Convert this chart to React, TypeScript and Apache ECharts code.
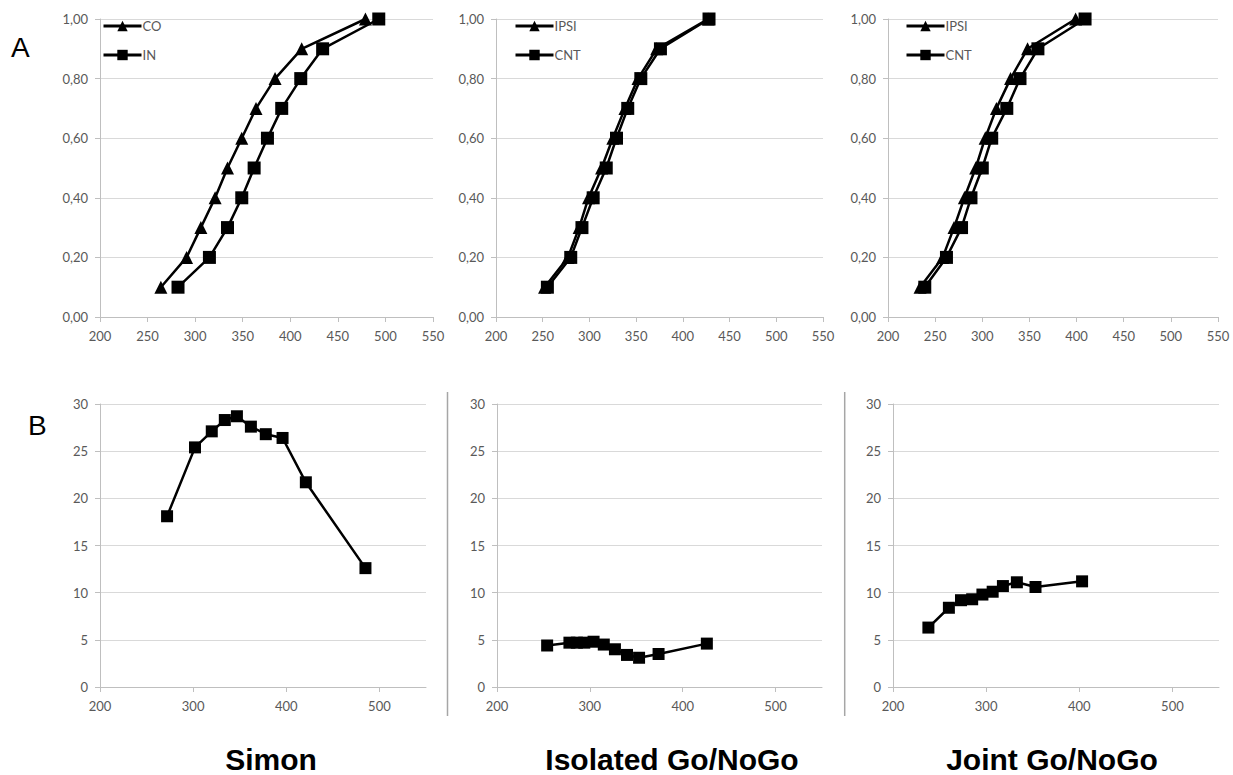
import React, { useEffect, useRef } from "react";
import * as echarts from "echarts";

// Panel A: cumulative distributions (x = RT, y = quantile)
const quantiles = [0.1, 0.2, 0.3, 0.4, 0.5, 0.6, 0.7, 0.8, 0.9, 1.0];
const simonCO = [264, 291, 306, 321, 334, 349, 364, 384, 412, 479];
const simonIN = [282, 315, 334, 349, 362, 376, 391, 411, 434, 493];
const isoIPSI = [252, 277, 289, 299, 313, 325, 338, 352, 372, 427];
const isoCNT = [255, 280, 292, 304, 318, 329, 341, 355, 376, 428];
const jointIPSI = [234, 258, 270, 281, 293, 303, 315, 330, 348, 399];
const jointCNT = [239, 262, 278, 288, 300, 310, 326, 340, 359, 409];

// Panel B: effect size vs mean RT
const simonEffX = [272, 302, 320, 334, 347, 362, 378, 396, 421, 485];
const simonEffY = [18.1, 25.4, 27.1, 28.3, 28.7, 27.6, 26.8, 26.4, 21.7, 12.6];
const isoEffX = [254, 278, 286, 294, 304, 315, 327, 340, 353, 374, 426];
const isoEffY = [4.4, 4.7, 4.7, 4.7, 4.8, 4.5, 4.0, 3.4, 3.1, 3.5, 4.6];
const jointEffX = [238, 260, 273, 285, 296, 307, 318, 333, 353, 403];
const jointEffY = [6.3, 8.4, 9.2, 9.3, 9.8, 10.1, 10.7, 11.1, 10.6, 11.2];

const panelTitles = ["Simon", "Isolated Go/NoGo", "Joint Go/NoGo"];
const legendA1 = ["CO", "IN"];
const legendA2 = ["IPSI", "CNT"];

const zip = (xs: number[], ys: number[]) => xs.map((x, i) => [x, ys[i]]);

const LABEL = "#595959";
const AXIS = "#bfbfbf";
const GRID = "#d9d9d9";
const FONT = "Lato, 'Liberation Sans', sans-serif";

export default function App() {
  const ref = useRef<HTMLDivElement>(null);

  useEffect(() => {
    if (!ref.current) return;
    const chart = echarts.init(ref.current, null, { renderer: "svg" });

    const grids = [
      { left: 100, top: 19, width: 333, height: 298 },
      { left: 496, top: 19, width: 327, height: 298 },
      { left: 888, top: 19, width: 330, height: 298 },
      { left: 100, top: 404, width: 326, height: 283 },
      { left: 497, top: 404, width: 325, height: 283 },
      { left: 893, top: 404, width: 326, height: 283 },
    ];

    const xAxes = grids.map((_, i) => ({
      type: "value",
      gridIndex: i,
      min: 200,
      max: 550,
      interval: i < 3 ? 50 : 100,
      axisLine: { show: true, lineStyle: { color: AXIS, width: 1 } },
      axisTick: { show: true, length: 5, lineStyle: { color: AXIS } },
      axisLabel: {
        color: LABEL,
        fontSize: 13,
        fontFamily: FONT,
        margin: 12,
        showMaxLabel: i < 3,
      },
      splitLine: { show: false },
    }));

    const yAxes = grids.map((_, i) => ({
      type: "value",
      gridIndex: i,
      min: 0,
      max: i < 3 ? 1 : 30,
      interval: i < 3 ? 0.2 : 5,
      axisLine: { show: true, lineStyle: { color: AXIS, width: 1 } },
      axisTick: { show: true, length: 5, lineStyle: { color: AXIS } },
      axisLabel: {
        color: LABEL,
        fontSize: 13,
        fontFamily: FONT,
        margin: 12,
        formatter: i < 3 ? (v: number) => v.toFixed(2).replace(".", ",") : (v: number) => String(v),
      },
      splitLine: { show: true, lineStyle: { color: GRID, width: 1 } },
    }));

    const line = (name: string, idx: number, data: number[][], symbol: string, size: number) => ({
      name,
      type: "line",
      xAxisIndex: idx,
      yAxisIndex: idx,
      data,
      symbol,
      symbolSize: size,
      lineStyle: { color: "#000", width: 2.5 },
      itemStyle: { color: "#000" },
      emphasis: { disabled: true },
    });

    const series = [
      line("CO", 0, zip(simonCO, quantiles), "triangle", 13),
      line("IN", 0, zip(simonIN, quantiles), "rect", 13),
      line("IPSI", 1, zip(isoIPSI, quantiles), "triangle", 13),
      line("CNT", 1, zip(isoCNT, quantiles), "rect", 13),
      line("IPSI", 2, zip(jointIPSI, quantiles), "triangle", 13),
      line("CNT", 2, zip(jointCNT, quantiles), "rect", 13),
      line("SimonEff", 3, zip(simonEffX, simonEffY), "rect", 12),
      line("IsoEff", 4, zip(isoEffX, isoEffY), "rect", 12),
      line("JointEff", 5, zip(jointEffX, jointEffY), "rect", 12),
    ];

    const legendBase = {
      orient: "vertical",
      top: 19.5,
      padding: 0,
      itemWidth: 38,
      itemHeight: 13,
      itemGap: 16,
      selectedMode: false,
      lineStyle: { width: 3 },
      textStyle: { color: LABEL, fontSize: 13, fontFamily: FONT, padding: [0, 0, 0, -4] },
    };

    const titleX = [271, 672, 1052];

    chart.setOption({
      animation: false,
      backgroundColor: "#fff",
      grid: grids,
      xAxis: xAxes,
      yAxis: yAxes,
      series,
      legend: [
        { ...legendBase, left: 102, data: legendA1 },
        { ...legendBase, left: 514, data: legendA2 },
        { ...legendBase, left: 905, data: legendA2 },
      ],
      graphic: [
        { type: "text", left: 11, top: 33, style: { text: "A", fontSize: 28, fontFamily: "'Liberation Sans', Arial, sans-serif", fill: "#000" } },
        { type: "text", left: 28, top: 411, style: { text: "B", fontSize: 28, fontFamily: "'Liberation Sans', Arial, sans-serif", fill: "#000" } },
        { type: "line", shape: { x1: 447.5, y1: 392, x2: 447.5, y2: 716 }, style: { stroke: "#a6a6a6", lineWidth: 1.5 } },
        { type: "line", shape: { x1: 844.7, y1: 392, x2: 844.7, y2: 716 }, style: { stroke: "#a6a6a6", lineWidth: 1.5 } },
        ...panelTitles.map((t, i) => ({
          type: "text",
          x: titleX[i],
          y: 759,
          style: {
            text: t,
            fontSize: 30,
            lineHeight: 26,
            fontWeight: "bold",
            fontFamily: "'Liberation Sans', Arial, sans-serif",
            fill: "#000",
            textAlign: "center",
            textVerticalAlign: "middle",
          },
        })),
      ],
    });

    return () => chart.dispose();
  }, []);

  return (
    <div
      ref={ref}
      style={{ position: "fixed", left: 0, top: 0, width: 1233, height: 775, background: "#fff" }}
    />
  );
}
